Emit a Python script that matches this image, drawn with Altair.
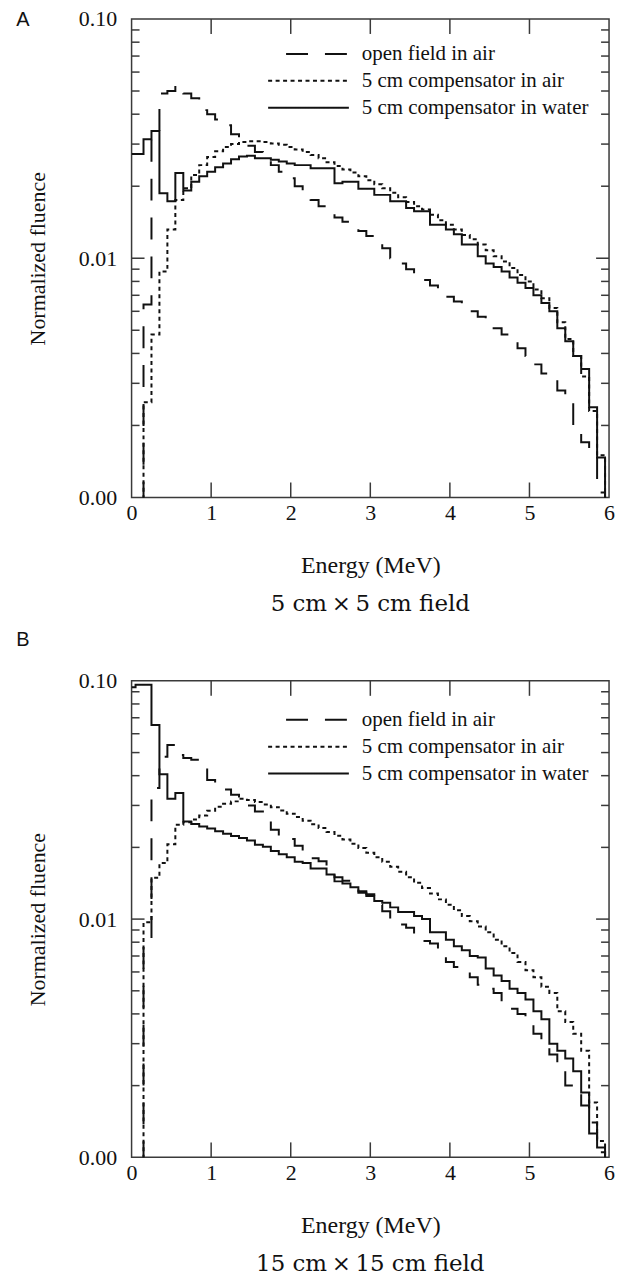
import altair as alt
import pandas as pd

# ---------------- data ----------------
energy = [0.0, 0.1, 0.2, 0.3, 0.4, 0.5, 0.6, 0.7, 0.8, 0.9,
          1.0, 1.1, 1.2, 1.3, 1.4, 1.5, 1.6, 1.7, 1.8, 1.9,
          2.0, 2.1, 2.2, 2.3, 2.4, 2.5, 2.6, 2.7, 2.8, 2.9,
          3.0, 3.1, 3.2, 3.3, 3.4, 3.5, 3.6, 3.7, 3.8, 3.9,
          4.0, 4.1, 4.2, 4.3, 4.4, 4.5, 4.6, 4.7, 4.8, 4.9,
          5.0, 5.1, 5.2, 5.3, 5.4, 5.5, 5.6, 5.7, 5.8, 5.9, 6.0]

# Panel A: 5 cm x 5 cm field (0.0005 = no fluence, below the axis)
a_open_air = [0.0005, 0.0005, 0.0064, 0.033, 0.0488, 0.050, 0.0529, 0.0488, 0.0466, 0.0416,
              0.040, 0.038, 0.036, 0.033, 0.031, 0.0295, 0.0278, 0.026, 0.0245, 0.0230,
              0.0216, 0.0200, 0.0184, 0.0175, 0.0165, 0.0155, 0.0148, 0.0142, 0.0137, 0.0130,
              0.0124, 0.0118, 0.0110, 0.0100, 0.0095, 0.0090, 0.0086, 0.0081, 0.0077, 0.0073,
              0.0069, 0.0066, 0.0063, 0.0060, 0.0057, 0.0054, 0.0051, 0.0048, 0.0046, 0.0042,
              0.0039, 0.0036, 0.0033, 0.0031, 0.0028, 0.0026, 0.0019, 0.0017, 0.0015, 0.00105, 0.0005]
a_comp_air = [0.0005, 0.0005, 0.0025, 0.0048, 0.0088, 0.0132, 0.0175, 0.0196, 0.0223, 0.0245,
              0.0265, 0.0280, 0.0292, 0.0300, 0.0306, 0.0308, 0.0308, 0.0306, 0.0302, 0.0298,
              0.0292, 0.0285, 0.0278, 0.0270, 0.0262, 0.0252, 0.0243, 0.0235, 0.0228, 0.0220,
              0.0212, 0.0204, 0.0196, 0.0188, 0.0180, 0.0172, 0.0165, 0.0160, 0.0152, 0.0144,
              0.0138, 0.0132, 0.0125, 0.0120, 0.0114, 0.0108, 0.0102, 0.0097, 0.0091, 0.0085,
              0.0080, 0.0074, 0.0068, 0.0062, 0.0054, 0.0046, 0.0039, 0.0032, 0.0023, 0.0015, 0.0005]
a_comp_water = [0.0273, 0.0273, 0.0314, 0.0340, 0.0187, 0.0173, 0.0227, 0.0192, 0.0209, 0.0220,
                0.0230, 0.0240, 0.0249, 0.0259, 0.0266, 0.0268, 0.0262, 0.0262, 0.0258, 0.0254,
                0.0249, 0.0245, 0.0245, 0.0238, 0.0238, 0.0238, 0.0206, 0.0209, 0.0209, 0.0195,
                0.0195, 0.0184, 0.0184, 0.0173, 0.0173, 0.0162, 0.0157, 0.0157, 0.0138, 0.0138,
                0.0132, 0.0126, 0.0114, 0.0114, 0.0102, 0.0095, 0.0092, 0.0088, 0.0083, 0.0079,
                0.0075, 0.0070, 0.0065, 0.0060, 0.0051, 0.0045, 0.0039, 0.00344, 0.00238, 0.00147, 0.0005]

# Panel B: 15 cm x 15 cm field
b_open_air = [0.0005, 0.0005, 0.0082, 0.0355, 0.048, 0.0538, 0.0489, 0.0475, 0.0466, 0.0433,
              0.0384, 0.0366, 0.0350, 0.0333, 0.0317, 0.0300, 0.0283, 0.0263, 0.0237, 0.0217,
              0.0217, 0.0203, 0.0185, 0.0180, 0.0175, 0.0157, 0.0150, 0.0145, 0.0136, 0.0131,
              0.0127, 0.0115, 0.0108, 0.0098, 0.0095, 0.0092, 0.0084, 0.0081, 0.0079, 0.0074,
              0.0066, 0.0063, 0.0060, 0.0057, 0.0053, 0.0051, 0.0049, 0.0044, 0.0042, 0.0040,
              0.0037, 0.0033, 0.0030, 0.0027, 0.0024, 0.0020, 0.0019, 0.00165, 0.0014, 0.00105, 0.0005]
b_comp_air = [0.0005, 0.0005, 0.0097, 0.0149, 0.0172, 0.0206, 0.0249, 0.0255, 0.0262, 0.0272,
              0.0285, 0.0296, 0.0305, 0.0312, 0.0320, 0.0316, 0.0310, 0.0303, 0.0295, 0.0286,
              0.0277, 0.0268, 0.0259, 0.0250, 0.0241, 0.0232, 0.0224, 0.0216, 0.0207, 0.0199,
              0.0190, 0.0182, 0.0174, 0.0166, 0.0158, 0.0150, 0.0142, 0.0135, 0.0128, 0.0121,
              0.0115, 0.0109, 0.0103, 0.0098, 0.0093, 0.0088, 0.0082, 0.0077, 0.0072, 0.0066,
              0.0061, 0.0057, 0.0052, 0.0049, 0.0041, 0.0037, 0.0033, 0.0028, 0.0017, 0.00117, 0.0005]
b_comp_water = [0.094, 0.0964, 0.0964, 0.0652, 0.0406, 0.0320, 0.0338, 0.0257, 0.0251, 0.0245,
                0.0240, 0.0234, 0.0228, 0.0223, 0.0219, 0.0214, 0.0205, 0.0201, 0.0193, 0.0187,
                0.0182, 0.0174, 0.0172, 0.0163, 0.0163, 0.0154, 0.0144, 0.0141, 0.0136, 0.0129,
                0.0125, 0.0119, 0.0117, 0.0112, 0.0107, 0.0107, 0.0103, 0.0100, 0.0088, 0.0088,
                0.0082, 0.0077, 0.0074, 0.0070, 0.0069, 0.0062, 0.0058, 0.0055, 0.0051, 0.0049,
                0.0046, 0.0041, 0.0038, 0.0030, 0.0028, 0.0026, 0.0023, 0.00187, 0.00126, 0.0011, 0.0005]

series_names = ["open field in air", "5 cm compensator in air", "5 cm compensator in water"]
x_label_values = [0, 1, 2, 3, 4, 5, 6]
x_inner_ticks = [1, 2, 3, 4, 5]
y_label_values = [0.001, 0.01, 0.1]
y_minor_ticks = [0.002, 0.003, 0.004, 0.005, 0.006, 0.007, 0.008, 0.009,
                 0.02, 0.03, 0.04, 0.05, 0.06, 0.07, 0.08, 0.09]
y_major_ticks = [0.01]

# ---------------- styling ----------------
SERIF = "Liberation Serif"
CAPTION_FONT = "DejaVu Serif"
SANS = "Liberation Sans"
INK = "#111111"
FRAME = "#3a3a3a"

xs = alt.Scale(domain=[0, 6], nice=False, zero=False)
ys = alt.Scale(type="log", domain=[0.001, 0.1], nice=False)
dash_scale = alt.Scale(domain=series_names, range=[[22, 17], [4, 3.5], [1, 0]])

x_axis = alt.Axis(
    values=x_label_values, format="d", ticks=False, domain=False, grid=False,
    labelFlush=False, labelFont=SERIF, labelFontSize=22, labelColor=INK,
    labelPadding=5, title="Energy (MeV)", titleFont=SERIF, titleFontSize=24,
    titleFontWeight="normal", titleColor=INK, titlePadding=30)
y_axis = alt.Axis(
    values=y_label_values, format=".2f", ticks=False, domain=False, grid=False,
    labelFlush=False, labelFont=SERIF, labelFontSize=22, labelColor=INK,
    labelPadding=15, labelOverlap=False, title="Normalized fluence",
    titleFont=SERIF, titleFontSize=22, titleFontWeight="normal",
    titleColor=INK, titlePadding=29)


def panel(letter, letter_y, caption, open_air, comp_air, comp_water, W, H, legend_y):
    rows = []
    for name, vals in zip(series_names, [open_air, comp_air, comp_water]):
        for e, v in zip(energy, vals):
            rows.append({"energy": e, "fluence": v, "series": name})
    df = pd.DataFrame(rows)

    lines = alt.Chart(df).mark_line(
        interpolate="step", clip=True, color=INK, strokeWidth=2
    ).encode(
        x=alt.X("energy:Q", scale=xs, axis=x_axis, title="Energy (MeV)"),
        y=alt.Y("fluence:Q", scale=ys, axis=y_axis, title="Normalized fluence"),
        strokeDash=alt.StrokeDash("series:N", scale=dash_scale, legend=None),
        detail="series:N",
    )

    layers = [lines]

    xt = pd.DataFrame({"v": x_inner_ticks})
    for y0, y1 in [(H, H - 15), (0, 15)]:
        layers.append(alt.Chart(xt).mark_rule(color=FRAME, strokeWidth=1.5).encode(
            x=alt.X("v:Q", scale=xs, axis=x_axis, title="Energy (MeV)"),
            y=alt.value(y0), y2=alt.value(y1)))

    for ticks, length in [(y_minor_ticks, 8), (y_major_ticks, 13)]:
        td = pd.DataFrame({"v": ticks})
        for x0, x1 in [(0, length), (W - length, W)]:
            layers.append(alt.Chart(td).mark_rule(color=FRAME, strokeWidth=1.5).encode(
                y=alt.Y("v:Q", scale=ys, axis=y_axis, title="Normalized fluence"),
                x=alt.value(x0), x2=alt.value(x1)))

    # in-plot legend
    for i, name in enumerate(series_names):
        ld = pd.DataFrame({"series": [name]})
        ry = legend_y + 27 * i
        x0 = 155 if i == 0 else 137
        layers.append(alt.Chart(ld).mark_rule(color=INK, strokeWidth=2).encode(
            x=alt.value(x0), x2=alt.value(218), y=alt.value(ry),
            strokeDash=alt.StrokeDash("series:N", scale=dash_scale, legend=None)))
        layers.append(alt.Chart(ld).mark_text(
            align="left", baseline="middle", font=SERIF, fontSize=21, color=INK
        ).encode(x=alt.value(231), y=alt.value(ry), text="series:N"))

    # panel letter
    layers.append(alt.Chart(pd.DataFrame({"panel": [letter]})).mark_text(
        align="center", baseline="middle", font=SANS, fontSize=20, color=INK
    ).encode(x=alt.value(-109), y=alt.value(letter_y), text="panel:N"))

    return alt.layer(*layers).properties(
        width=W, height=H,
        title=alt.TitleParams(caption, orient="bottom", frame="group", anchor="middle",
                              font=CAPTION_FONT, fontSize=23, fontWeight="normal",
                              color=INK, offset=16),
    )


pa = panel("A", 1, "5 cm\u2009\u00d7\u20095 cm field",
           a_open_air, a_comp_air, a_comp_water, 479, 480, 35)
pb = panel("B", -41, "15 cm\u2009\u00d7\u200915 cm field",
           b_open_air, b_comp_air, b_comp_water, 479, 478, 39)

chart = alt.vconcat(pa, pb, spacing=184, bounds="flush").configure_view(
    stroke=FRAME, strokeWidth=1.5
).properties(
    padding={"left": 15, "top": 5, "right": 5, "bottom": 0},
    background="white",
)

chart.save("out.html", embed_options={"renderer": "svg", "actions": False})
